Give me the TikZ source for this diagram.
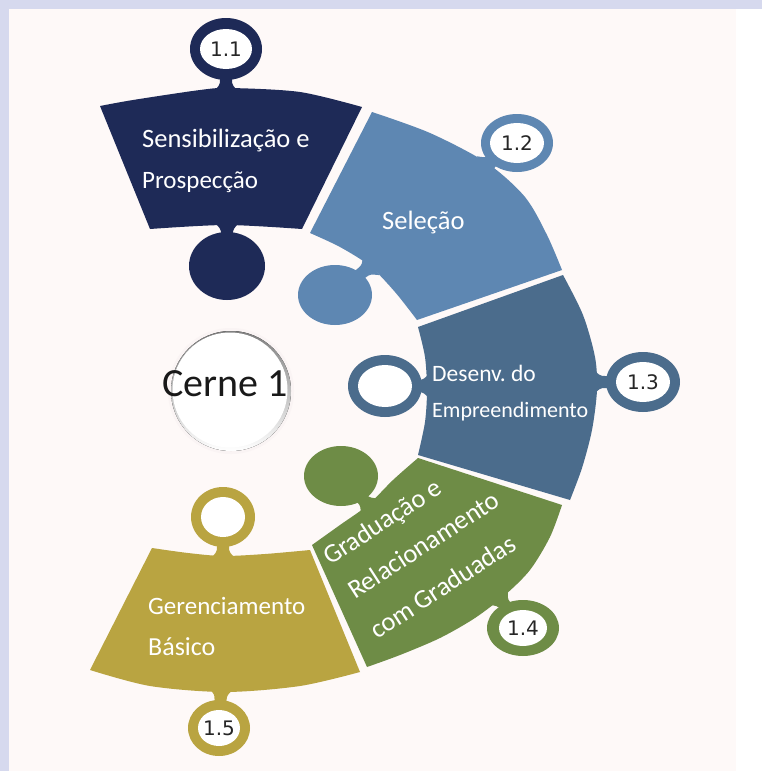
\documentclass[tikz,border=0pt]{standalone}
\usepackage{fontspec}
\setmainfont{Carlito}
\newfontfamily\numfont{DejaVu Sans}
\usetikzlibrary{calc}
\definecolor{frame}{HTML}{D6D9EE}
\definecolor{bgc}{HTML}{FEF9F8}
\definecolor{navy}{HTML}{1E2A57}
\definecolor{steel}{HTML}{5E87B2}
\definecolor{slate}{HTML}{4B6C8C}
\definecolor{olive}{HTML}{6E8C46}
\definecolor{gold}{HTML}{B9A441}
\definecolor{shade}{HTML}{F4ECEC}
\definecolor{shadeb}{HTML}{FAF4F4}
\tikzset{
  lbl/.style={text=white, anchor=base west, inner sep=0pt, font=\fontsize{25}{30}\selectfont},
  num/.style={text=black!85, inner sep=0pt, font=\numfont\fontsize{20}{24}\selectfont},
}
% neck with fillets from edge point #2 towards knob centre #3
\newcommand\kneck[3]{\fill[#1]
  ($(#2)!-3pt!(#3)!13pt!90:(#3)$) .. controls ($(#2)!3pt!(#3)!7pt!90:(#3)$) and ($(#2)!4pt!(#3)!6pt!90:(#3)$) .. ($(#2)!9pt!(#3)!6pt!90:(#3)$)
  -- ($(#3)!6pt!-90:(#2)$) -- ($(#3)!6pt!90:(#2)$)
  -- ($(#2)!9pt!(#3)!6pt!-90:(#3)$) .. controls ($(#2)!4pt!(#3)!6pt!-90:(#3)$) and ($(#2)!3pt!(#3)!7pt!-90:(#3)$) .. ($(#2)!-3pt!(#3)!13pt!-90:(#3)$)
  -- cycle;}
\begin{document}
\begin{tikzpicture}[x=1pt,y=-1pt]
\useasboundingbox (0,0) rectangle (762,771);
\fill[frame] (0,0) rectangle (762,771);
\fill[bgc] (9,9) rectangle (762,771);
\fill[white] (736,9) rectangle (762,771);

% ---- 1.1
\kneck{navy}{226,89}{226,49}
\kneck{navy}{227,225}{227,266}
\fill[navy] (100,106) -- plot[smooth] coordinates {(100,106) (133,100) (200,90) (230,88) (300,92) (362,107)} -- (302,229) -- plot[smooth] coordinates {(302,229) (226,225) (150,229)} -- cycle;
\fill[navy] (226,49) ellipse [x radius=36, y radius=31];
\fill[white] (226,49) ellipse [x radius=26, y radius=20];
\fill[navy] (227,266) ellipse [x radius=38, y radius=34];

% ---- 1.2
\kneck{steel}{487,165}{517,143}
\kneck{steel}{369,267}{335,295}
\fill[steel] (372,112) -- plot[smooth] coordinates {(372,112) (430,133) (487,163) (525,197) (547,235) (562,270)} -- (417,320) -- plot[smooth] coordinates {(417,320) (395,292) (370,266) (340,247) (310,233)} -- cycle;
\fill[steel] (517,143) ellipse [x radius=36, y radius=29];
\fill[white] (517,143) ellipse [x radius=27, y radius=20];
\fill[steel] (335,295) ellipse [x radius=37, y radius=30];

% ---- 1.3
\kneck{slate}{596,382}{643,382}
\kneck{slate}{427,386}{385,386}
\fill[slate] (418,327) -- (563,275) -- plot[smooth] coordinates {(563,275) (583,315) (595,357) (597,390) (592,430) (582,468) (570,500)} -- (418,455) -- plot[smooth] coordinates {(418,455) (425,422) (427,390) (425,357) (418,327)} -- cycle;
\fill[slate] (643,382) ellipse [x radius=37, y radius=30];
\fill[white] (643,382) ellipse [x radius=27, y radius=20];
\fill[slate] (385,386) ellipse [x radius=37, y radius=31];
\fill[white] (385,386) ellipse [x radius=27, y radius=21];

% ---- 1.4
\kneck{olive}{368,505}{341,476}
\kneck{olive}{500,599}{523,628}
\fill[olive] (418,458) -- (562,505) -- plot[smooth] coordinates {(562,505) (550,537) (530,570) (505,595) (475,618) (440,638) (400,655) (367,667)} -- (312,545) -- plot[smooth] coordinates {(312,545) (340,525) (368,505) (393,480) (418,458)} -- cycle;
\fill[olive] (341,476) ellipse [x radius=37, y radius=30];
\fill[olive] (523,628) ellipse [x radius=36, y radius=28];
\fill[white] (523,628) ellipse [x radius=24, y radius=18];

% ---- 1.5
\kneck{gold}{223,556}{223,517}
\kneck{gold}{221,691}{219,728}
\fill[gold] (152,548) -- plot[smooth] coordinates {(152,548) (188,553) (223,556) (265,554) (310,550)} -- (360,672) -- plot[smooth] coordinates {(360,672) (300,686) (225,692) (150,686) (90,670)} -- cycle;
\fill[gold] (223,517) ellipse [x radius=32, y radius=30];
\fill[white] (223,517) ellipse [x radius=22, y radius=20];
\fill[gold] (219,728) ellipse [x radius=31, y radius=28];
\fill[white] (219,728) ellipse [x radius=21, y radius=18];

% ---- centre
\fill[shadeb] (231,391) circle (63);
\fill[shade] (231,391) circle (60);
\fill[white] (230,390) circle (57.5);
\node[inner sep=0pt, font=\fontsize{40}{44}\selectfont, text=black!90] (cerne) at (225,384) {Cerne 1};

% ---- labels
\node[lbl, font=\fontsize{26.5}{30}\selectfont] (t11a) at (142,147) {Sensibilização e};
\node[lbl] (t11b) at (142,188) {Prospecção};
\node[lbl, font=\fontsize{26.5}{30}\selectfont] (t12) at (382,229) {Seleção};
\node[lbl, font=\fontsize{23.5}{27}\selectfont] (t13a) at (432,381) {Desenv.\ do};
\node[lbl, font=\fontsize{22}{27}\selectfont] (t13b) at (432,417) {Empreendimento};
\node[lbl, rotate=33, font=\fontsize{26.5}{30}\selectfont] (t14a) at (330,566) {Graduação e};
\node[lbl, rotate=33, font=\fontsize{26.5}{30}\selectfont] (t14b) at (355,600) {Relacionamento};
\node[lbl, rotate=33, font=\fontsize{26.5}{30}\selectfont] (t14c) at (377,640) {com Graduadas};
\node[lbl] (t15a) at (148,614) {Gerenciamento};
\node[lbl, font=\fontsize{26}{30}\selectfont] (t15b) at (148,655) {Básico};

% ---- numbers
\node[num] (n11) at (226,49) {1.1};
\node[num] (n12) at (517,143) {1.2};
\node[num] (n13) at (643,382) {1.3};
\node[num] (n14) at (523,628) {1.4};
\node[num] (n15) at (219,728) {1.5};
\end{tikzpicture}
\end{document}
